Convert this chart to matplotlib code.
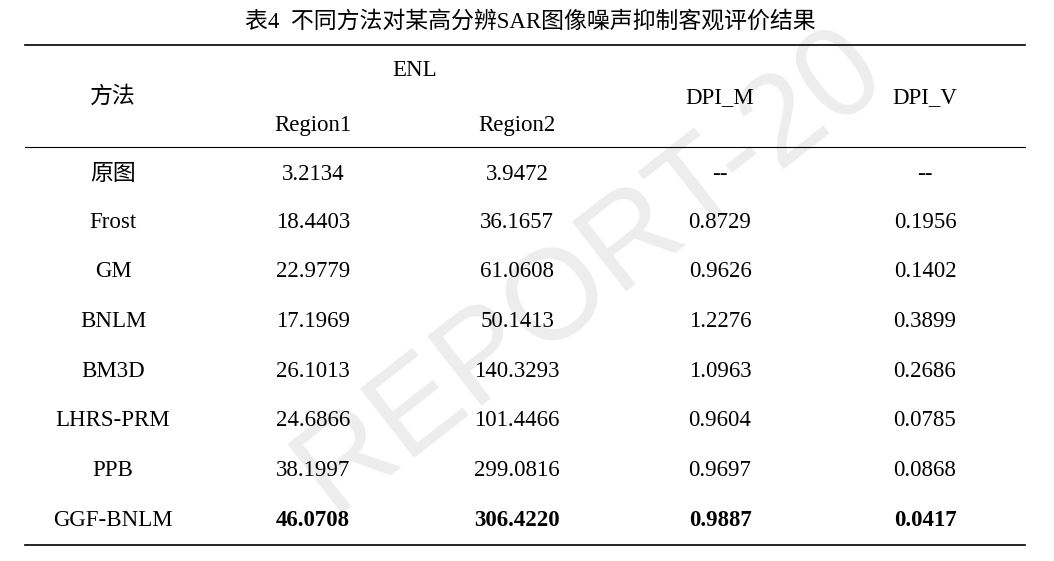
import matplotlib
matplotlib.use("Agg")
import matplotlib.pyplot as plt

title = "表4  不同方法对某高分辨SAR图像噪声抑制客观评价结果"
methods = ["原图", "Frost", "GM", "BNLM", "BM3D", "LHRS-PRM", "PPB", "GGF-BNLM"]
enl_region1 = ["3.2134", "18.4403", "22.9779", "17.1969", "26.1013", "24.6866", "38.1997", "46.0708"]
enl_region2 = ["3.9472", "36.1657", "61.0608", "50.1413", "140.3293", "101.4466", "299.0816", "306.4220"]
dpi_m = ["--", "0.8729", "0.9626", "1.2276", "1.0963", "0.9604", "0.9697", "0.9887"]
dpi_v = ["--", "0.1956", "0.1402", "0.3899", "0.2686", "0.0785", "0.0868", "0.0417"]

plt.rcParams["font.family"] = ["Liberation Serif", "Noto Sans CJK SC"]
fig = plt.figure(figsize=(10.54, 5.61), dpi=100)
ax = fig.add_axes([0, 0, 1, 1])
ax.set_xlim(0, 1054); ax.set_ylim(561, 0); ax.axis("off")

ax.text(590, 270, "REPORT-20", fontsize=92, color="#ededed", rotation=38,
        ha="center", va="center", zorder=0, family="Liberation Sans")

fs = 16.5
ax.text(530, 22, title, ha="center", va="center", fontsize=16.5)
for y in (45, 545):
    ax.plot([25, 1025], [y, y], color="black", lw=1.2)
ax.plot([25, 1025], [147, 147], color="black", lw=0.8)

cols = [113, 313, 517, 720, 925]
ax.text(cols[0], 97, "方法", ha="center", va="center", fontsize=fs)
ax.text(415, 70, "ENL", ha="center", va="center", fontsize=fs)
ax.text(cols[1], 125, "Region1", ha="center", va="center", fontsize=fs)
ax.text(cols[2], 125, "Region2", ha="center", va="center", fontsize=fs)
ax.text(cols[3], 98, "DPI_M", ha="center", va="center", fontsize=fs)
ax.text(cols[4], 98, "DPI_V", ha="center", va="center", fontsize=fs)

ys = [174, 222, 271, 321, 371, 420, 470, 520]
for i, y in enumerate(ys):
    last = i == len(ys) - 1
    vals = [methods[i], enl_region1[i], enl_region2[i], dpi_m[i], dpi_v[i]]
    for j, (x, v) in enumerate(zip(cols, vals)):
        w = "bold" if (last and j > 0) else "normal"
        ax.text(x, y, v, ha="center", va="center", fontsize=fs, fontweight=w)

fig.savefig("out.png", dpi=100, facecolor="white")
